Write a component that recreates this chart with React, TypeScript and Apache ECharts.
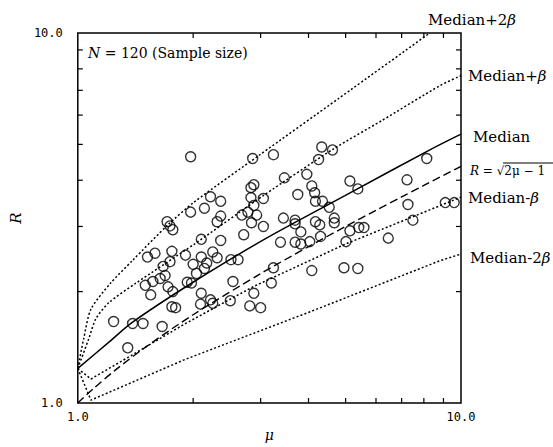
import React, { useEffect, useRef } from "react";
import * as echarts from "echarts";

// ---- data ----
const minorTickValues = [2, 3, 4, 5, 6, 7, 8, 9];

const medianMu = [1, 1.21, 1.39, 1.98, 3.05, 4.98, 8.41, 10];
const medianR = [1.24, 1.465, 1.654, 2.107, 2.76, 3.636, 4.87, 5.33];

const plusBetaMu = [1, 1.069, 1.114, 1.205, 1.417, 2.011, 3.05, 4.66, 6.2, 8.84, 10];
const plusBetaR = [1.24, 1.495, 1.687, 1.867, 2.107, 2.685, 3.636, 4.87, 5.79, 7.22, 7.67];

const plus2BetaMu = [1, 1.036, 1.082, 1.217, 1.389, 1.718, 2.011, 2.98, 4.8, 8.29];
const plus2BetaR = [1.24, 1.492, 1.792, 2.107, 2.427, 3.03, 3.49, 4.68, 6.66, 10];

const minusBetaMu = [1, 1.082, 1.389, 1.904, 2.877, 4.98, 10];
const minusBetaR = [1.24, 1.161, 1.35, 1.637, 2.065, 2.685, 3.6];

const minus2BetaMu = [1, 1.082, 1.904, 4.1, 8.84, 10];
const minus2BetaR = [1.24, 1.018, 1.311, 1.775, 2.427, 2.527];

const sqrtMu = [1, 1.1, 1.25, 1.5, 2, 3, 4, 5, 6, 7, 8, 10];
const sqrtR = [1, 1.095, 1.225, 1.414, 1.732, 2.236, 2.646, 3, 3.317, 3.606, 3.873, 4.359];

const sampleMu = [
  1.97, 2.86, 3.24, 4.33, 4.62, 4.25, 8.14, 3.46, 3.96, 5.13, 7.23, 2.88, 2.83, 4.08, 4.15, 3.75, 5.38, 3.05,
  2.83, 2.22, 2.36, 4.17, 4.35, 4.53, 7.27, 9.1, 9.6, 2.14, 1.97, 1.71, 1.77, 1.74, 2.31, 2.36, 2.68, 2.78,
  2.93, 2.84, 2.88, 3.05, 3.44, 3.69, 3.69, 4.17, 4.28, 4.67, 4.67, 7.49, 5.41, 5.58, 5.13, 3.82, 4.3, 2.71,
  2.36, 2.1, 3.38, 3.69, 3.82, 4.03, 5.01, 6.46, 1.52, 1.59, 1.76, 1.91, 2.1, 2.17, 2.25, 2.31, 2.51, 2.62,
  2.0, 2.14, 3.24, 4.08, 4.95, 5.38, 1.5, 1.57, 1.64, 1.69, 1.72, 1.77, 1.55, 1.93, 1.98, 2.04, 2.1, 2.22,
  2.09, 2.25, 2.54, 2.5, 2.81, 3.0, 2.88, 3.2, 1.76, 1.8, 1.24, 1.39, 1.48, 1.66, 1.35, 1.67, 1.74,
];
const sampleR = [
  4.63, 4.58, 4.69, 4.92, 4.83, 4.55, 4.58, 4.06, 4.15, 3.98, 4.01, 3.89, 3.82, 3.86, 3.7, 3.66, 3.79, 3.57,
  3.59, 3.61, 3.51, 3.51, 3.51, 3.38, 3.44, 3.48, 3.48, 3.36, 3.28, 3.09, 2.94, 3.01, 3.09, 3.2, 3.22, 3.28,
  3.22, 3.07, 3.42, 3.0, 3.16, 3.12, 3.05, 3.09, 3.03, 3.16, 3.07, 3.12, 2.98, 2.98, 2.92, 2.9, 2.82, 2.85,
  2.75, 2.77, 2.72, 2.72, 2.69, 2.73, 2.73, 2.79, 2.48, 2.54, 2.57, 2.51, 2.48, 2.39, 2.56, 2.47, 2.44, 2.44,
  2.37, 2.31, 2.32, 2.28, 2.32, 2.31, 2.08, 2.13, 2.17, 2.21, 2.06, 2.0, 1.96, 2.12, 2.11, 2.24, 1.98, 1.9,
  1.85, 1.86, 2.13, 1.89, 1.83, 1.81, 1.98, 2.11, 1.82, 1.81, 1.66, 1.64, 1.64, 1.61, 1.41, 2.34, 2.41,
];

const zip = (a: number[], b: number[]) => a.map((v, i) => [v, b[i]]);

const SERIF = '"DejaVu Serif", "Liberation Serif", serif';
const MONO = '"DejaVu Sans Mono", "Liberation Mono", monospace';

export default function App() {
  const ref = useRef<HTMLDivElement>(null);
  useEffect(() => {
    const chart = echarts.init(ref.current!, null, { renderer: "svg" });
    const dotted = (data: number[][], smooth: number | boolean = false) => ({
      type: "line",
      data,
      smooth,
      showSymbol: false,
      silent: true,
      lineStyle: { color: "#000", width: 1.5, type: [2, 2.2] },
    });
    const lbl = (text: string, x: number, y: number, size = 15) => ({
      type: "text",
      x,
      y,
      style: {
        text,
        fill: "#000",
        font: `${size}px ${SERIF}`,
        verticalAlign: "middle",
        rich: {
          b: { fontFamily: SERIF, fontSize: size, fontStyle: "italic", fill: "#000" },
        },
      },
    });
    const option: any = {
      animation: false,
      backgroundColor: "#fff",
      grid: {
        left: 71,
        top: 33,
        width: 390,
        height: 380,
        show: true,
        borderColor: "#000",
        borderWidth: 1.5,
        backgroundColor: "transparent",
      },
      xAxis: {
        type: "log",
        logBase: 10,
        min: 1,
        max: 10,
        name: "μ",
        nameLocation: "middle",
        nameGap: 25,
        nameTextStyle: { fontFamily: SERIF, fontStyle: "italic", fontSize: 14, color: "#000" },
        axisLine: { show: false },
        axisTick: { show: false },
        splitLine: { show: false },
        axisLabel: {
          formatter: (v: number) => v.toFixed(1),
          fontFamily: MONO,
          fontSize: 12,
          color: "#000",
          margin: 8,
          showMinLabel: true,
          showMaxLabel: true,
        },
      },
      yAxis: {
        type: "log",
        logBase: 10,
        min: 1,
        max: 10,
        name: "R",
        nameLocation: "middle",
        nameGap: 44,
        nameRotate: 90,
        nameTextStyle: { fontFamily: SERIF, fontStyle: "italic", fontSize: 15, color: "#000" },
        axisLine: { show: false },
        axisTick: { show: false },
        splitLine: { show: false },
        axisLabel: {
          formatter: (v: number) => v.toFixed(1),
          fontFamily: MONO,
          fontSize: 12,
          color: "#000",
          margin: 15,
          showMinLabel: true,
          showMaxLabel: true,
        },
      },
      series: [
        {
          type: "custom",
          coordinateSystem: "cartesian2d",
          data: minorTickValues.map((v) => [v, v]),
          silent: true,
          clip: false,
          renderItem: (_p: any, api: any) => {
            const v = api.value(0);
            const b = api.coord([v, 1]);
            const t = api.coord([v, 10]);
            const l = api.coord([1, v]);
            const r = api.coord([10, v]);
            const L = 5;
            const st = { stroke: "#000", lineWidth: 1.2 };
            return {
              type: "group",
              children: [
                { type: "line", shape: { x1: b[0], y1: b[1], x2: b[0], y2: b[1] - L }, style: st },
                { type: "line", shape: { x1: t[0], y1: t[1], x2: t[0], y2: t[1] + L }, style: st },
                { type: "line", shape: { x1: l[0], y1: l[1], x2: l[0] + L, y2: l[1] }, style: st },
                { type: "line", shape: { x1: r[0], y1: r[1], x2: r[0] - L, y2: r[1] }, style: st },
              ],
            };
          },
        },
        dotted(zip(plus2BetaMu, plus2BetaR), 0.25),
        dotted(zip(plusBetaMu, plusBetaR), 0.25),
        {
          type: "line",
          data: zip(medianMu, medianR),
          smooth: 0.3,
          showSymbol: false,
          silent: true,
          lineStyle: { color: "#000", width: 1.5, type: "solid" },
        },
        {
          type: "line",
          data: zip(sqrtMu, sqrtR),
          smooth: 0.3,
          showSymbol: false,
          silent: true,
          lineStyle: { color: "#000", width: 1.4, type: [8, 4] },
        },
        dotted(zip(minusBetaMu, minusBetaR)),
        dotted(zip(minus2BetaMu, minus2BetaR)),
        {
          type: "scatter",
          data: zip(sampleMu, sampleR),
          symbol: "circle",
          symbolSize: 10,
          silent: true,
          itemStyle: { color: "transparent", borderColor: "#000", borderWidth: 1.4 },
        },
      ],
      graphic: [
        lbl("{b|N} = 120 (Sample size)", 88, 53, 14),
        lbl("Median+2{b|β}", 428, 20),
        lbl("Median+{b|β}", 468, 76),
        lbl("Median", 473, 137),
        {
          type: "text",
          x: 470,
          y: 171,
          style: {
            text: "{i|R} = √2μ − 1",
            fill: "#000",
            font: `12px ${SERIF}`,
            verticalAlign: "middle",
            rich: { i: { fontFamily: SERIF, fontSize: 12, fontStyle: "italic", fill: "#000" } },
          },
        },
        { type: "line", shape: { x1: 503, y1: 163, x2: 553, y2: 163 }, style: { stroke: "#000", lineWidth: 1 } },
        lbl("Median-{b|β}", 468, 198),
        lbl("Median-2{b|β}", 470, 258),
      ],
    };
    chart.setOption(option);
    return () => chart.dispose();
  }, []);
  return (
    <div
      ref={ref}
      style={{ position: "fixed", left: 0, top: 0, width: 553, height: 447, background: "#fff" }}
    />
  );
}
